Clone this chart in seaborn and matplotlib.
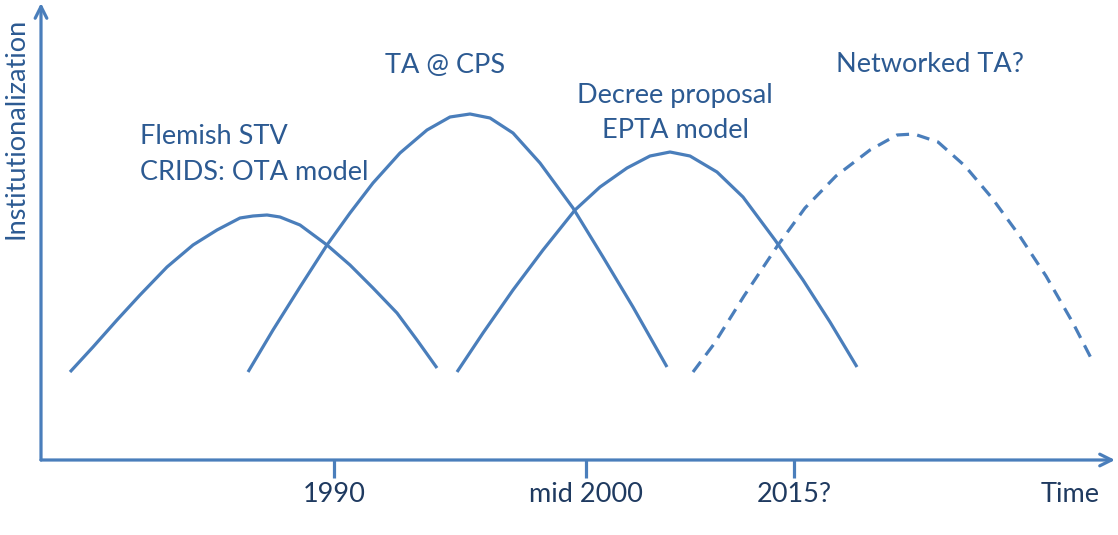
import matplotlib
matplotlib.use("Agg")
import matplotlib.pyplot as plt
import seaborn as sns
import pandas as pd

# ---- data (diagram units: x = time, y = institutionalization) ----
curve_names = ["Flemish STV", "TA @ CPS", "Decree proposal", "Networked TA?"]
curve_styles = ["solid", "solid", "solid", "dashed"]

c1_x = [29, 52, 76, 99, 126, 152, 176, 199, 212, 226, 239, 259, 286, 309, 332, 356, 376, 396]
c1_y = [88, 113, 140, 165, 193, 215, 230, 242, 244, 245, 243, 235, 215, 195, 172, 147, 120, 92]
c2_x = [207, 232, 259, 286, 309, 332, 359, 386, 409, 429, 449, 472, 499, 532, 562, 592, 626]
c2_y = [88, 130, 173, 215, 247, 277, 307, 330, 343, 346, 342, 327, 297, 252, 203, 153, 93]
c3_x = [416, 442, 472, 502, 534, 559, 586, 609, 629, 649, 676, 702, 734, 762, 789, 816]
c3_y = [88, 127, 170, 210, 250, 273, 292, 304, 308, 304, 288, 263, 220, 180, 138, 93]
c4_x = [652, 673, 703, 737, 764, 795, 829, 856, 873, 897, 924, 951, 978, 1005, 1032, 1051]
c4_y = [88, 116, 164, 215, 252, 284, 310, 325, 326, 318, 294, 262, 225, 184, 137, 100]

tick_pos = [293, 545, 753, 1029]
tick_labels = ["1990", "mid 2000", "2015?", "Time"]

labels_text = ["Flemish STV", "CRIDS: OTA model", "TA @ CPS",
               "Decree proposal", "EPTA model", "Networked TA?"]
labels_x = [99, 99, 404, 634, 634, 889]
labels_y = [323, 288, 394, 365, 330, 395]
labels_ha = ["left", "left", "center", "center", "center", "center"]

y_label = "Institutionalization"

# ---- build long-form table ----
rows = []
for name, style, xs, ys in zip(curve_names, curve_styles,
                               [c1_x, c2_x, c3_x, c4_x],
                               [c1_y, c2_y, c3_y, c4_y]):
    for i, (x, y) in enumerate(zip(xs, ys)):
        rows.append({"curve": name, "style": style, "order": i, "x": x, "y": y})
df = pd.DataFrame(rows)

LINE = "#4A7EBB"
TEXT = "#2C5A92"
DARK = "#1F3A60"

sns.set_theme(style="white")
plt.rcParams["font.family"] = ["Lato", "DejaVu Sans"]

W, H = 1118, 535
fig = plt.figure(figsize=(W / 100, H / 100), dpi=100)
ax = fig.add_axes([41 / W, (H - 460) / H, (1115 - 41) / W, (460 - 3) / H])
ax.set_xlim(0, 1074)
ax.set_ylim(0, 457)

sns.lineplot(data=df, x="x", y="y", units="curve", estimator=None, sort=False,
             style="style", dashes={"solid": "", "dashed": (4, 2.6)},
             color=LINE, linewidth=2.3, ax=ax, legend=False)
for ln in ax.lines:
    ln.set_solid_joinstyle("round")
    ln.set_solid_capstyle("butt")

for s in ax.spines.values():
    s.set_visible(False)

# axis arrows
ax.annotate("", xy=(1, 0), xytext=(0, 0), xycoords="axes fraction",
            arrowprops=dict(arrowstyle="->,head_length=0.7,head_width=0.35",
                            color=LINE, lw=2.3, shrinkA=0, shrinkB=0))
ax.annotate("", xy=(0, 1), xytext=(0, 0), xycoords="axes fraction",
            arrowprops=dict(arrowstyle="->,head_length=0.7,head_width=0.35",
                            color=LINE, lw=2.3, shrinkA=0, shrinkB=0))

ax.set_xticks(tick_pos)
ax.set_xticklabels(tick_labels, fontsize=19.5, color=DARK)
ax.tick_params(axis="x", direction="out", length=13, width=2.3, color=LINE,
               pad=3, bottom=True)
ax.get_xaxis().get_major_ticks()[3].tick1line.set_visible(False)
ax.set_yticks([])
ax.set_xlabel("")
ax.set_ylabel("")

for t, x, y, ha in zip(labels_text, labels_x, labels_y, labels_ha):
    ax.text(x, y, t, ha=ha, va="center", fontsize=19.5, color=TEXT)

fig.text(16 / W, 1 - 128 / H, y_label, rotation=90, ha="center", va="center",
         fontsize=19.5, color=TEXT)

fig.savefig("out.png", dpi=100, facecolor="white")
